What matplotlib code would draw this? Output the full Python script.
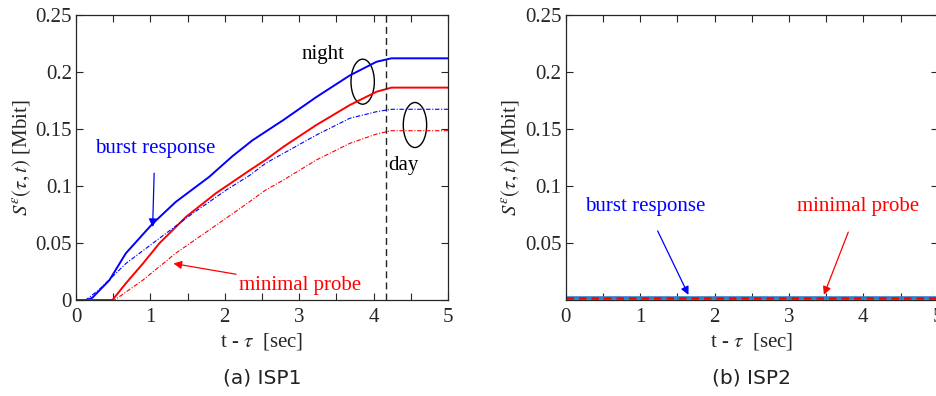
import matplotlib
matplotlib.use("Agg")
import matplotlib.pyplot as plt
from matplotlib.patches import Ellipse
from matplotlib.ticker import MultipleLocator

plt.rcParams["font.family"] = ["Liberation Serif", "DejaVu Serif"]
plt.rcParams["mathtext.fontset"] = "stix"

# ISP1: burst response / minimal probe, night (solid) and day (dash-dot)
t_burst_night = [0, 0.15, 0.22, 0.45, 0.67, 1.03, 1.34, 1.79, 2.1, 2.37, 2.79, 3.23, 3.68, 4.04, 4.24, 5.0]
burst_night = [0, 0, 0.002, 0.0175, 0.041, 0.067, 0.086, 0.108, 0.126, 0.140, 0.158, 0.178, 0.197, 0.209, 0.212, 0.212]

t_probe_night = [0, 0.49, 0.67, 0.9, 1.12, 1.48, 1.88, 2.34, 2.55, 2.79, 3.23, 3.68, 4.04, 4.24, 5.0]
probe_night = [0, 0, 0.0146, 0.032, 0.0497, 0.073, 0.0936, 0.114, 0.123, 0.1345, 0.1535, 0.171, 0.1827, 0.1863, 0.1863]

t_burst_day = [0, 0.13, 0.31, 0.67, 1.21, 1.57, 2.02, 2.34, 2.55, 2.79, 3.23, 3.68, 4.04, 4.24, 5.0]
burst_day = [0, 0, 0.009, 0.032, 0.0585, 0.076, 0.0965, 0.1096, 0.12, 0.1287, 0.1447, 0.1594, 0.1652, 0.1673, 0.1673]

t_probe_day = [0, 0.52, 0.9, 1.34, 1.79, 2.24, 2.55, 2.79, 3.23, 3.68, 4.04, 4.24, 5.0]
probe_day = [0, 0, 0.0175, 0.041, 0.0614, 0.0819, 0.0965, 0.1053, 0.1228, 0.1374, 0.1456, 0.1485, 0.1485]

t_day_boundary = 4.167

# ISP2: both curves stay flat just above zero
t_isp2 = [0, 5.0]
burst_isp2 = [0.0025, 0.0025]
probe_isp2 = [0.0025, 0.0025]

xticks = [0, 1, 2, 3, 4, 5]
yticks_a = [0, 0.05, 0.1, 0.15, 0.2, 0.25]
yticks_b = [0.05, 0.1, 0.15, 0.2, 0.25]
ytick_labels_a = ["0", "0.05", "0.1", "0.15", "0.2", "0.25"]
ytick_labels_b = ["0.05", "0.1", "0.15", "0.2", "0.25"]

W, H = 936, 396
fig = plt.figure(figsize=(W / 100, H / 100), dpi=100)

ax_a = fig.add_axes([76 / W, 96 / H, 372 / W, 285 / H])
ax_b = fig.add_axes([565.7 / W, 96 / H, 372 / W, 285 / H])

BLUE = "#0000ff"
RED = "#ff0000"
FS = 15


def style_axes(ax, yticks, ylabels, ylim):
    ax.set_xlim(0, 5)
    ax.set_ylim(*ylim)
    ax.set_xticks(xticks)
    ax.xaxis.set_minor_locator(MultipleLocator(0.5))
    ax.set_yticks(yticks)
    ax.set_yticklabels(ylabels)
    ax.tick_params(which="both", direction="in", top=True, right=True,
                   labelsize=FS, colors="#262626", width=0.8)
    ax.tick_params(which="major", length=5)
    ax.tick_params(which="minor", length=5)
    ax.tick_params(axis="x", pad=6)
    ax.tick_params(axis="y", pad=3)
    for s in ax.spines.values():
        s.set_color("#262626")
        s.set_linewidth(0.9)
    ax.set_xlabel(r"t - $\tau$  [sec]", fontsize=FS, color="#262626", labelpad=3)
    ax.set_ylabel(r"$S^{\epsilon}(\tau,t)$ [Mbit]", fontsize=FS, color="#262626", labelpad=2)


# (a) ISP1
ax_a.plot(t_burst_night, burst_night, color=BLUE, lw=1.4)
ax_a.plot(t_probe_night, probe_night, color=RED, lw=1.4)
ax_a.plot(t_burst_day, burst_day, color=BLUE, lw=0.8, ls=(0, (4, 1.5, 1, 1.5)))
ax_a.plot(t_probe_day, probe_day, color=RED, lw=0.8, ls=(0, (4, 1.5, 1, 1.5)))
ax_a.axvline(t_day_boundary, color="#222222", lw=1.0, ls=(0, (5, 3)))
style_axes(ax_a, yticks_a, ytick_labels_a, (0, 0.25))

ax_a.add_patch(Ellipse((3.853, 0.1915), 0.314, 0.0395, fill=False, ec="black", lw=1.0))
ax_a.add_patch(Ellipse((4.556, 0.1535), 0.314, 0.0395, fill=False, ec="black", lw=1.0))
ax_a.text(3.32, 0.215, "night", fontsize=FS, ha="center", va="center", color="black")
ax_a.text(4.4, 0.118, "day", fontsize=FS, ha="center", va="center", color="black")

ax_a.annotate("burst response", xy=(1.03, 0.064), xytext=(1.06, 0.133),
              fontsize=FS, color=BLUE, ha="center", va="center",
              arrowprops=dict(arrowstyle="-|>", color=BLUE, lw=0.9,
                              shrinkA=9, shrinkB=0, mutation_scale=12))
ax_a.annotate("minimal probe", xy=(1.31, 0.032), xytext=(3.01, 0.013),
              fontsize=FS, color=RED, ha="center", va="center",
              arrowprops=dict(arrowstyle="-|>", color=RED, lw=0.9,
                              shrinkA=62, shrinkB=0, mutation_scale=12))

# (b) ISP2
ax_b.plot(t_isp2, burst_isp2, color="#2f7fc8", lw=2.6, solid_capstyle="butt")
ax_b.plot(t_isp2, probe_isp2, color=RED, lw=1.8, ls=(0, (3, 2)))
style_axes(ax_b, yticks_b, ytick_labels_b, (0.0005, 0.25))

ax_b.annotate("burst response", xy=(1.65, 0.005), xytext=(1.075, 0.0827),
              fontsize=FS, color=BLUE, ha="center", va="center",
              arrowprops=dict(arrowstyle="-|>", color=BLUE, lw=0.9,
                              shrinkA=10, shrinkB=0, mutation_scale=12))
ax_b.annotate("minimal probe", xy=(3.47, 0.005), xytext=(3.93, 0.082),
              fontsize=FS, color=RED, ha="center", va="center",
              arrowprops=dict(arrowstyle="-|>", color=RED, lw=0.9,
                              shrinkA=10, shrinkB=0, mutation_scale=12))

# captions
fig.text(262 / W, 1 - 378 / H, "(a) ISP1", fontsize=14.5, family="DejaVu Sans",
         ha="center", va="center", color="#222222")
fig.text(752 / W, 1 - 378 / H, "(b) ISP2", fontsize=14.5, family="DejaVu Sans",
         ha="center", va="center", color="#222222")

fig.savefig("out.png", dpi=100)
